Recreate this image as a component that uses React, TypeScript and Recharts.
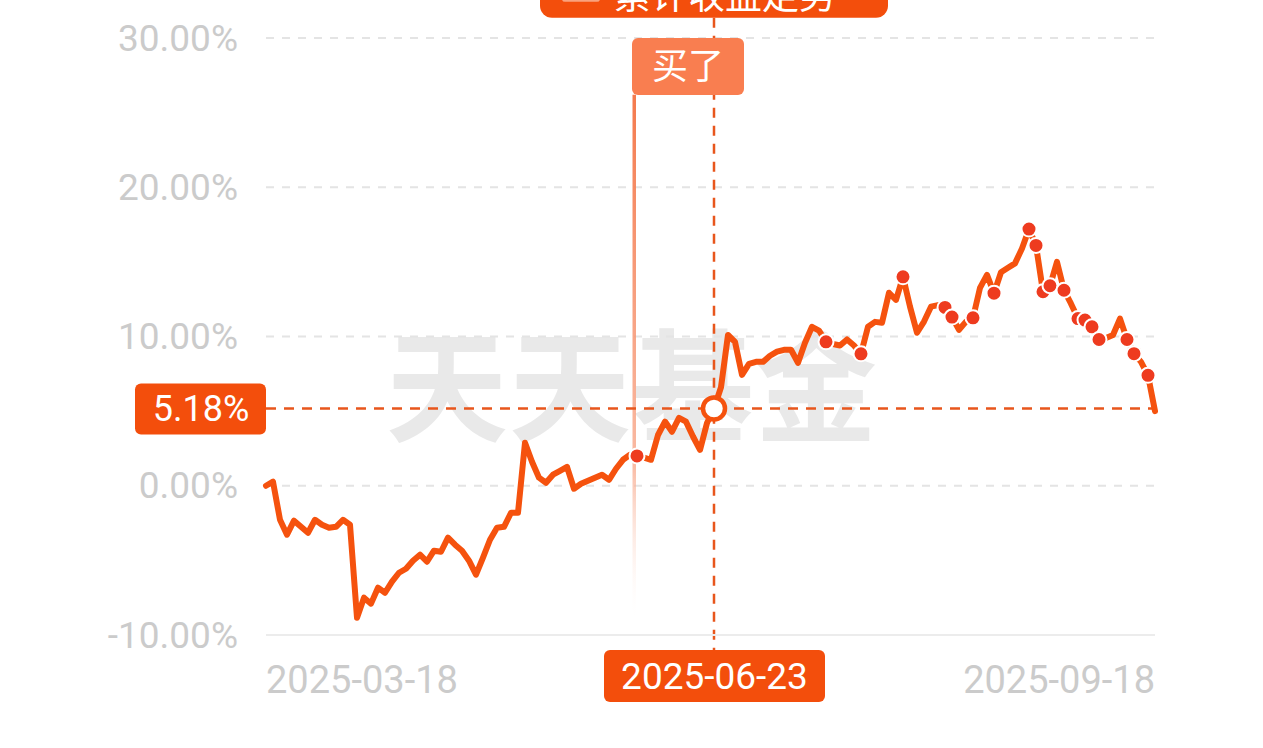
import { CartesianGrid, Line, LineChart, ReferenceDot, ReferenceLine, XAxis, YAxis } from "recharts";

// trading days per month, 2025
const marDays = [18, 19, 20, 21, 24, 25, 26, 27, 28, 31];
const aprDays = [1, 2, 3, 7, 8, 9, 10, 11, 14, 15, 16, 17, 18, 21, 22, 23, 24, 25, 28, 29, 30];
const mayDays = [6, 7, 8, 9, 12, 13, 14, 15, 16, 19, 20, 21, 22, 23, 26, 27, 28, 29, 30];
const junDays = [3, 4, 5, 6, 9, 10, 11, 12, 13, 16, 17, 18, 19, 20, 23, 24, 25, 26, 27, 30];
const julDays = [1, 2, 3, 4, 7, 8, 9, 10, 11, 14, 15, 16, 17, 18, 21, 22, 23, 24, 25, 28, 29, 30, 31];
const augDays = [1, 4, 5, 6, 7, 8, 11, 12, 13, 14, 15, 18, 19, 20, 21, 22, 25, 26, 27, 28, 29];
const sepDays = [1, 2, 3, 4, 5, 8, 9, 10, 11, 12, 15, 16, 17, 18];

// cumulative return, %
const returns = [
  0.0, 0.27, -2.28, -3.28, -2.34, -2.75, -3.15, -2.28, -2.61, -2.81,
  -2.75, -2.28, -2.61, -8.84, -7.5, -7.9, -6.83, -7.17, -6.43, -5.83,
  -5.56, -5.02, -4.62, -5.09, -4.35, -4.42, -3.48, -3.95, -4.35, -5.02,
  -5.96, -4.82, -3.62, -2.81, -2.75, -1.81, -1.81, 2.88, 1.61, 0.54,
  0.2, 0.74, 1.0, 1.27, -0.2, 0.13, 0.33, 0.54, 0.74, 0.4,
  1.14, 1.74, 2.08, 2.0, 1.88, 1.74, 3.4, 4.3, 3.62, 4.55,
  4.29, 3.3, 2.4, 4.2, 5.18, 6.6, 10.1, 9.64, 7.43, 8.17,
  8.3, 8.3, 8.71, 8.98, 9.11, 9.11, 8.24, 9.58, 10.65, 10.4,
  9.64, 9.5, 9.4, 9.8, 9.4, 8.84, 10.65, 10.98, 10.92, 12.93,
  12.46, 14.0, 12.0, 10.25, 11.0, 12.0, 12.1, 11.95, 11.3, 10.45,
  11.0, 11.25, 13.26, 14.13, 12.9, 14.3, 14.6, 14.9, 15.9, 17.2,
  16.1, 13.0, 13.4, 15.0, 13.1, 12.2, 11.2, 11.1, 10.65, 9.8,
  9.9, 10.1, 11.2, 9.8, 8.85, 8.3, 7.4, 5.0,
];

// days with a trade marker
const markerIdx = [53, 80, 85, 91, 97, 98, 101, 104, 109, 110, 111, 112, 114, 116, 117, 118, 119, 123, 124, 126];
const buyIdx = 53;
const selectedIdx = 64;

const yTicks = [-10, 0, 10, 20, 30];
const xTicks = ["2025-03-18", "2025-09-18"];

const pad = (n: number) => String(n).padStart(2, "0");
const months: [number, number[]][] = [
  [3, marDays], [4, aprDays], [5, mayDays], [6, junDays], [7, julDays], [8, augDays], [9, sepDays],
];
const dates = months.flatMap(([m, days]) => days.map((d) => `2025-${pad(m)}-${pad(d)}`));
const data = dates.map((date, i) => ({ date, value: returns[i], mark: markerIdx.includes(i) }));

const ORANGE = "#F5520E";
const BOX = "#F34E0C";
const DOT = "#EE3B1F";
const GRAY = "#cbcbcb";
const FONT = "Roboto, 'Noto Sans CJK SC', sans-serif";

const selDate = dates[selectedIdx];
const selValue = returns[selectedIdx];
const buyDate = dates[buyIdx];

function YTick(props: any) {
  return (
    <text x={props.x} y={props.y} textAnchor="end" dominantBaseline="central" fill={GRAY} fontSize={37} fontFamily={FONT}>
      {props.payload.value.toFixed(2) + "%"}
    </text>
  );
}

function XTick(props: any) {
  const first = props.payload.value === xTicks[0];
  return (
    <text x={props.x} y={props.y + 58} textAnchor={first ? "start" : "end"} fill={GRAY} fontSize={38} fontFamily={FONT}>
      {props.payload.value}
    </text>
  );
}

export default function App() {
  return (
    <div style={{ position: "relative", width: 1263, height: 748, background: "#fff" }}>
      <style>{"body{margin:0}"}</style>
      <div
        style={{
          position: "absolute",
          left: 386,
          top: 318,
          fontSize: 122,
          fontWeight: 700,
          color: "#e9e9e9",
          fontFamily: "'Noto Sans CJK SC', sans-serif",
          letterSpacing: 1,
          lineHeight: 1,
        }}
      >
        天天基金
      </div>
      <LineChart width={1263} height={748} data={data} margin={{ top: 38, right: 108, bottom: 0, left: 0 }}>
        <CartesianGrid vertical={false} stroke="#e4e4e4" strokeWidth={2} strokeDasharray="8 8" />
        <XAxis
          dataKey="date"
          ticks={xTicks}
          interval={0}
          height={113}
          tickSize={0}
          tickMargin={0}
          tickLine={false}
          axisLine={{ stroke: "#ececec", strokeWidth: 2 }}
          tick={<XTick />}
        />
        <YAxis
          domain={[-10, 30]}
          ticks={yTicks}
          width={266}
          tickSize={0}
          tickMargin={28}
          axisLine={false}
          tickLine={false}
          tick={<YTick />}
        />
        <ReferenceLine
          segment={[{ x: buyDate, y: 26.2 }, { x: buyDate, y: -9.2 }]}
          ifOverflow="visible"
          shape={(p: any) => {
            const top = Math.min(p.y1, p.y2);
            const bottom = Math.max(p.y1, p.y2);
            return (
              <g>
                <defs>
                  <linearGradient id="buyGrad" x1="0" y1="0" x2="0" y2="1">
                    <stop offset="0" stopColor="#F47A4D" stopOpacity={1} />
                    <stop offset="0.7" stopColor="#F8A98C" stopOpacity={0.8} />
                    <stop offset="1" stopColor="#ffffff" stopOpacity={0} />
                  </linearGradient>
                </defs>
                <rect x={p.x1 - 4.5} y={top} width={3.5} height={bottom - top} fill="url(#buyGrad)" />
              </g>
            );
          }}
        />
        <ReferenceLine y={selValue} stroke="#E8561C" strokeWidth={2.5} strokeDasharray="10 8" />
        <ReferenceLine
          segment={[{ x: selDate, y: 31.35 }, { x: selDate, y: -11 }]}
          ifOverflow="visible"
          stroke="#E8561C"
          strokeWidth={2.5}
          strokeDasharray="10 8"
        />
        <Line
          dataKey="value"
          type="linear"
          stroke={ORANGE}
          strokeWidth={6}
          strokeLinejoin="round"
          strokeLinecap="round"
          isAnimationActive={false}
          activeDot={false}
          dot={(p: any) => {
            if (p.index === selectedIdx) {
              return <circle key={p.index} cx={p.cx} cy={p.cy} r={11} fill="#fff" stroke={ORANGE} strokeWidth={4.5} />;
            }
            if (!p.payload.mark) return <g key={p.index} />;
            return <circle key={p.index} cx={p.cx} cy={p.cy} r={7.5} fill={DOT} stroke="#fff" strokeWidth={2} />;
          }}
        />
        <ReferenceDot
          x={buyDate}
          y={30}
          ifOverflow="visible"
          shape={(p: any) => (
            <g>
              <rect x={p.cx - 5} y={p.cy} width={112} height={57} rx={6} fill="#F97E50" />
              <text x={p.cx + 51} y={p.cy + 29} textAnchor="middle" dominantBaseline="central" fill="#fff" fontSize={36} fontFamily={FONT}>
                买了
              </text>
            </g>
          )}
        />
        <ReferenceDot
          x={selDate}
          y={31.35}
          ifOverflow="visible"
          shape={(p: any) => (
            <g>
              <rect x={p.cx - 174} y={p.cy - 62} width={348} height={62} rx={12} fill={BOX} />
              <rect x={p.cx - 152} y={p.cy - 52} width={38} height={36} rx={3} fill="#F9A27E" />
              <text x={p.cx - 100} y={p.cy - 9} fill="#fff" fontSize={37} fontFamily={FONT}>
                累计收益走势
              </text>
            </g>
          )}
        />
        <ReferenceDot
          x={selDate}
          y={-11}
          ifOverflow="visible"
          shape={(p: any) => (
            <g>
              <rect x={p.cx - 110} y={p.cy} width={221} height={52} rx={6} fill={BOX} />
              <text x={p.cx + 0.5} y={p.cy + 27} textAnchor="middle" dominantBaseline="central" fill="#fff" fontSize={37} fontFamily={FONT}>
                {selDate}
              </text>
            </g>
          )}
        />
        <ReferenceDot
          x={dates[0]}
          y={selValue}
          ifOverflow="visible"
          shape={(p: any) => (
            <g>
              <rect x={p.cx - 131} y={p.cy - 25} width={131} height={51} rx={6} fill={BOX} />
              <text x={p.cx - 65} y={p.cy + 1} textAnchor="middle" dominantBaseline="central" fill="#fff" fontSize={36} fontFamily={FONT}>
                {selValue.toFixed(2) + "%"}
              </text>
            </g>
          )}
        />
      </LineChart>
    </div>
  );
}
